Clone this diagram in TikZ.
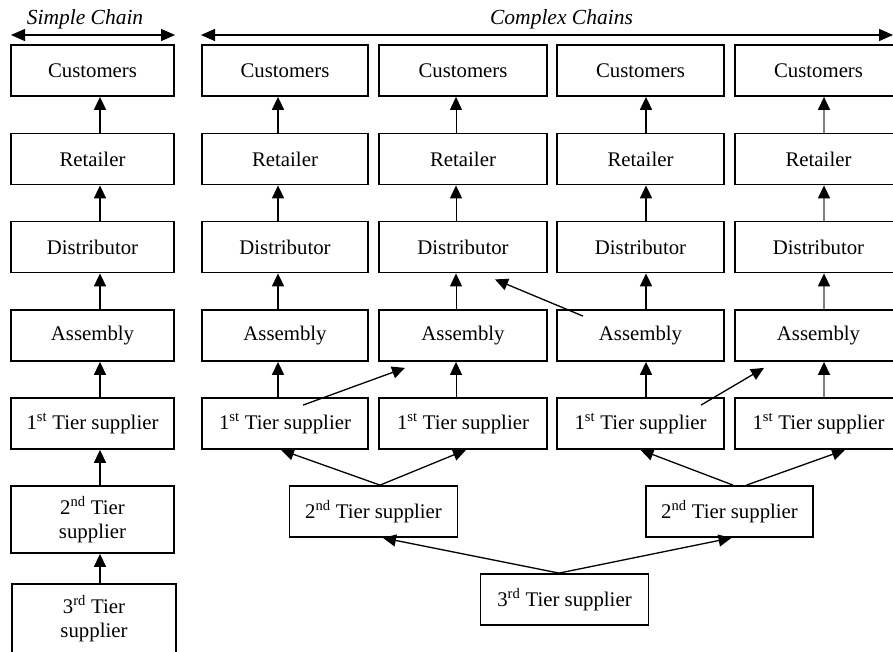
\documentclass[tikz,border=0pt]{standalone}
\usepackage{fontspec}
\setmainfont{Liberation Serif}
\usetikzlibrary{arrows.meta}
\begin{document}
\begin{tikzpicture}[x=1pt,y=-1pt,
  box/.style={draw,line width=1.8pt,minimum height=51pt,inner sep=0pt,align=center,
    font=\fontsize{20.8}{24}\selectfont},
  varr/.style={line width=1.6pt,-{Triangle[length=13pt,width=12pt]}},
  thinarr/.style={line width=1pt,-{Triangle[length=13pt,width=12pt]}},
  grayarr/.style={line width=1.4pt,draw=black!50,-{Triangle[length=13pt,width=12pt,color=black]}},
  darr/.style={line width=1.3pt,-{Triangle[length=13pt,width=12pt]}},
  tarr/.style={line width=1.4pt,{Triangle[length=14pt,width=12pt]}-{Triangle[length=14pt,width=12pt]}},
  title/.style={anchor=base,font=\itshape\fontsize{21.5}{24}\selectfont}]
\useasboundingbox (0,0) rectangle (893,651);

% titles
\node[title] (ts) at (85,24) {Simple Chain};
\node[title] (tc) at (561.5,24) {Complex Chains};
\coordinate (sl) at (11,35);
\coordinate (sr) at (175,35);
\coordinate (cl) at (201,35);
\coordinate (cr) at (893,35);
\draw[tarr] (sl) -- (sr);
\draw[tarr] (cl) -- (cr);

% columns of boxes
\foreach \n/\cx/\w in {s/92.5/163, a/285/166, b/463/168, c/640.5/167, d/818.5/167} {
  \node[box,minimum width=\w pt] (\n1) at (\cx,70.5) {Customers};
  \node[box,minimum width=\w pt] (\n2) at (\cx,159) {Retailer};
  \node[box,minimum width=\w pt] (\n3) at (\cx,247) {Distributor};
  \node[box,minimum width=\w pt] (\n4) at (\cx,335.5) {Assembly};
  \node[box,minimum width=\w pt] (\n5) at (\cx,423.5) {1\textsuperscript{st} Tier supplier};
}
% simple chain lower boxes
\node[box,minimum width=163pt,minimum height=67pt] (s6) at (92.5,519.5) {2\textsuperscript{nd} Tier\\supplier};
\node[box,minimum width=164pt,minimum height=69pt] (s7) at (94,618.5) {3\textsuperscript{rd} Tier\\supplier};

% complex lower boxes
\node[box,minimum width=168pt] (L2) at (373.5,511.5) {2\textsuperscript{nd} Tier supplier};
\node[box,minimum width=167pt] (R2) at (729.5,511.5) {2\textsuperscript{nd} Tier supplier};
\node[box,minimum width=168pt] (T3) at (564.5,599.5) {3\textsuperscript{rd} Tier supplier};

% vertical arrows
\foreach \lo/\hi in {2/1,3/2,4/3,5/4,6/5} {
  \draw[varr] ([xshift=7.5pt]s\lo.north) -- ([xshift=7.5pt]s\hi.south);
}
\draw[varr] ([xshift=6pt]s7.north) -- ([xshift=7.5pt]s6.south);
\foreach \lo/\hi in {2/1,3/2,4/3,5/4} {
  \draw[varr] ([xshift=-7pt]a\lo.north) -- ([xshift=-7pt]a\hi.south);
  \draw[thinarr] ([xshift=-7pt]b\lo.north) -- ([xshift=-7pt]b\hi.south);
  \draw[varr] ([xshift=5.5pt]c\lo.north) -- ([xshift=5.5pt]c\hi.south);
  \draw[grayarr] ([xshift=5.5pt]d\lo.north) -- ([xshift=5.5pt]d\hi.south);
}

% cross-links
\coordinate (x1) at ([shift={(-58,6)}]b4.south);
\coordinate (x2) at ([shift={(32,6)}]b3.south);
\coordinate (x3) at ([shift={(-54.5,6)}]d4.south);
\draw[darr] ([shift={(18,8)}]a5.north) -- (x1);
\draw[darr] ([shift={(-57.5,7)}]c4.north) -- (x2);
\draw[darr] ([shift={(60.5,8)}]c5.north) -- (x3);

% supplier tree
\draw[darr] ([xshift=6.5pt]L2.north) -- ([xshift=-4pt]a5.south);
\draw[darr] ([xshift=6.5pt]L2.north) -- ([xshift=3pt]b5.south);
\draw[darr] ([xshift=3.5pt]R2.north) -- (c5.south);
\draw[darr] ([xshift=17pt]R2.north) -- ([xshift=26.5pt]d5.south);
\draw[darr] ([xshift=-5.5pt]T3.north) -- ([xshift=9.5pt]L2.south);
\draw[darr] ([xshift=-5.5pt]T3.north) -- ([xshift=2pt]R2.south);
\end{tikzpicture}
\end{document}
